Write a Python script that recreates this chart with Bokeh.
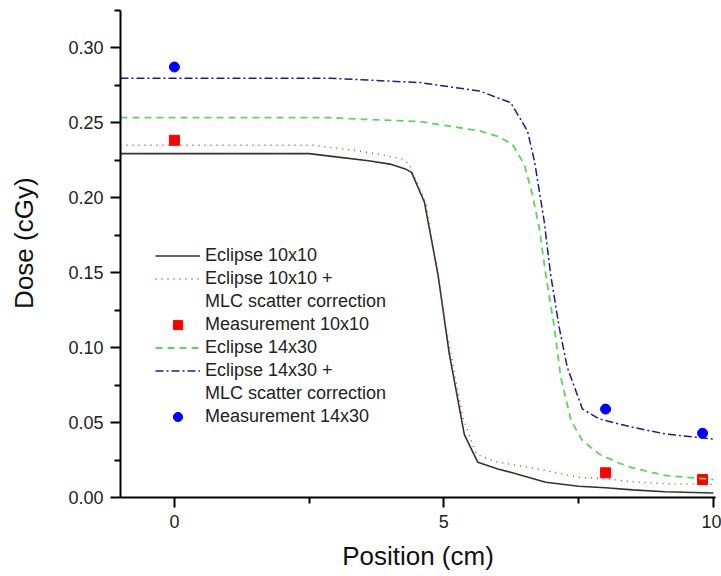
from bokeh.plotting import figure
from bokeh.models import Range1d, FixedTicker, Legend, LegendItem
from bokeh.embed import file_html
from bokeh.resources import INLINE

# ---- data ----
ecl10_x = [-1, 0, 1, 2, 2.5, 3.0, 3.6, 4.0, 4.3, 4.4, 4.64, 4.89, 5.10, 5.38, 5.63, 6.0, 6.27, 6.89, 7.5, 8.0, 8.5, 9.1, 10.0]
ecl10_y = [0.2295, 0.2295, 0.2295, 0.2295, 0.2295, 0.2273, 0.2247, 0.2225, 0.219, 0.217, 0.197, 0.149, 0.096, 0.042, 0.0235, 0.019, 0.0165, 0.0102, 0.0075, 0.0065, 0.0051, 0.0038, 0.003]

ecl10m_x = [-1, 0, 1, 2, 2.57, 3.31, 3.81, 4.23, 4.36, 4.67, 5.04, 5.35, 5.6, 5.94, 6.27, 6.89, 7.5, 8.0, 8.5, 9.1, 10.0]
ecl10m_y = [0.2351, 0.2351, 0.2351, 0.2351, 0.2351, 0.2318, 0.229, 0.2258, 0.2224, 0.196, 0.1135, 0.0535, 0.029, 0.024, 0.022, 0.018, 0.0135, 0.0125, 0.0105, 0.0092, 0.0087]

ecl14_x = [-1, 0, 1, 2, 2.88, 3.5, 4.55, 5.66, 6.0, 6.27, 6.49, 6.64, 6.77, 6.89, 7.05, 7.17, 7.36, 7.57, 7.88, 8.25, 8.5, 9.11, 10.0]
ecl14_y = [0.2535, 0.2535, 0.2535, 0.2535, 0.2535, 0.2524, 0.2509, 0.2447, 0.241, 0.2358, 0.2224, 0.2025, 0.180, 0.149, 0.1135, 0.080, 0.0513, 0.038, 0.029, 0.023, 0.0198, 0.0147, 0.012]

ecl14m_x = [-1, 0, 1, 2, 2.88, 4.55, 5.66, 6.24, 6.55, 6.68, 6.86, 6.98, 7.14, 7.29, 7.57, 7.88, 8.25, 8.5, 9.11, 10.0]
ecl14m_y = [0.2798, 0.2798, 0.2798, 0.2798, 0.2798, 0.2769, 0.2713, 0.2635, 0.2447, 0.2247, 0.1847, 0.149, 0.1135, 0.0869, 0.0591, 0.0525, 0.0491, 0.0469, 0.0424, 0.039]

meas10_x = [0, 8, 9.8]
meas10_y = [0.2384, 0.0165, 0.012]
meas14_x = [0, 8, 9.8]
meas14_y = [0.2873, 0.059, 0.0429]

x_major = [0, 5, 10]
x_minor = [2.5, 7.5]
y_major = [0.0, 0.05, 0.10, 0.15, 0.20, 0.25, 0.30]
y_minor = [0.025, 0.075, 0.125, 0.175, 0.225, 0.275, 0.325]

FONT = "Liberation Sans"

p = figure(width=721, height=576, output_backend="svg", toolbar_location=None,
           x_range=Range1d(-1, 10.04), y_range=Range1d(0, 0.325),
           min_border_left=120, min_border_right=6, min_border_top=10, min_border_bottom=79)
p.outline_line_color = None
p.xgrid.visible = False
p.ygrid.visible = False
p.background_fill_color = "white"

r1 = p.line(ecl10_x, ecl10_y, line_color="#333333", line_width=1.6)
r2 = p.line(ecl10m_x, ecl10m_y, line_color="#cc3333", line_width=1.4, line_dash="1 5")
r3 = p.scatter(meas10_x, meas10_y, marker="square", size=10, fill_color="#ff0000", line_color="#ff0000")
r4 = p.line(ecl14_x, ecl14_y, line_color="#5fd35f", line_width=1.8, line_dash="7 5")
r5 = p.line(ecl14m_x, ecl14m_y, line_color="#1c1c8c", line_width=1.5, line_dash="8 3 2 3")
r6 = p.scatter(meas14_x, meas14_y, marker="circle", size=10, fill_color="#0000ff", line_color="#0000ff")
blank = p.line([], [], line_alpha=0)

for ax, maj, mnr in ((p.xaxis[0], x_major, x_minor), (p.yaxis[0], y_major, y_minor)):
    ax.ticker = FixedTicker(ticks=maj, minor_ticks=mnr)
    ax.axis_line_width = 2
    ax.axis_line_color = "black"
    ax.major_tick_line_width = 2
    ax.minor_tick_line_width = 2
    ax.major_tick_out = 10
    ax.major_tick_in = 0
    ax.minor_tick_out = 6
    ax.minor_tick_in = 0
    ax.major_label_text_font = FONT
    ax.major_label_text_font_size = "18px"
    ax.major_label_text_color = "#222222"
    ax.axis_label_text_font = FONT
    ax.axis_label_text_font_size = "26px"
    ax.axis_label_text_font_style = "normal"
    ax.axis_label_text_color = "#111111"

p.xaxis[0].axis_label = "Position (cm)"
p.yaxis[0].axis_label = "\u00a0\u00a0\u00a0Dose (cGy)"
p.xaxis[0].major_label_standoff = 7
p.yaxis[0].major_label_standoff = 7
p.xaxis[0].axis_label_standoff = 10
p.yaxis[0].axis_label_standoff = 26
p.yaxis[0].major_label_overrides = {v: f"{v:.2f}" for v in y_major}
p.xaxis[0].major_label_overrides = {0: "0", 5: "5", 10: "10"}

items = [
    LegendItem(label="Eclipse 10x10", renderers=[r1]),
    LegendItem(label="Eclipse 10x10 +", renderers=[r2]),
    LegendItem(label="MLC scatter correction", renderers=[blank]),
    LegendItem(label="Measurement 10x10", renderers=[r3]),
    LegendItem(label="Eclipse 14x30", renderers=[r4]),
    LegendItem(label="Eclipse 14x30 +", renderers=[r5]),
    LegendItem(label="MLC scatter correction", renderers=[blank]),
    LegendItem(label="Measurement 14x30", renderers=[r6]),
]
legend = Legend(items=items, location=(35, 69), label_text_font=FONT,
                label_text_font_size="18px", label_text_color="#222222",
                glyph_width=45, glyph_height=23, label_height=23, spacing=0,
                label_standoff=5, padding=0, margin=0,
                border_line_alpha=0, background_fill_alpha=0)
p.add_layout(legend, "center")

open("out.html", "w").write(file_html(p, INLINE))
